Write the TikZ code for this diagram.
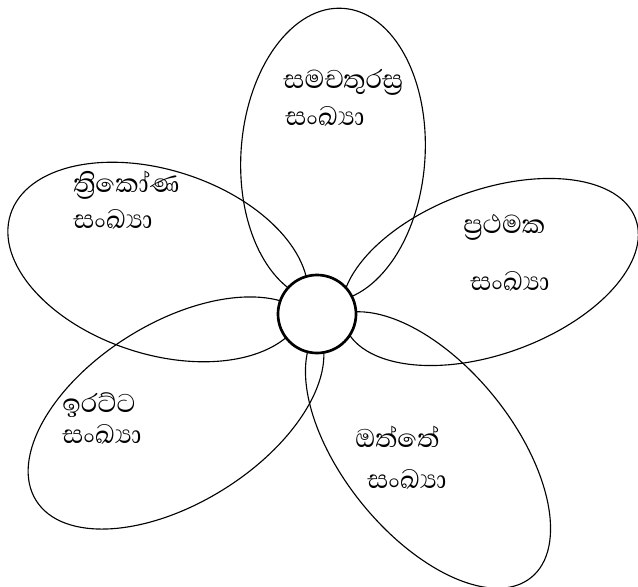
\documentclass[tikz,border=0pt]{standalone}
\usepackage{fontspec}
\newfontfamily\sinhala[Script=Sinhala]{Abhaya Libre}
\usetikzlibrary{positioning}

\begin{document}
\begin{tikzpicture}[x=0.025cm, y=-0.025cm,
  petal/.style={draw, line width=0.8pt},
  lbl/.style={font=\sinhala\fontsize{23.5}{28}\selectfont, anchor=base west, inner sep=0pt},
  hubst/.style={draw, circle, fill=white, line width=1.9pt, minimum size=1.95cm, inner sep=0pt}]
  \useasboundingbox (0,0) rectangle (638,586);
  % petals
  \draw[petal, rotate around={-4:(333,155)}] (333,155) ellipse [x radius=92, y radius=147];
  \draw[petal, rotate around={-18:(158,262)}] (158,262) ellipse [x radius=155, y radius=92];
  \draw[petal, rotate around={20:(490,272)}] (490,272) ellipse [x radius=155, y radius=82];
  \draw[petal, rotate around={32:(176,413)}] (176,413) ellipse [x radius=165, y radius=90];
  \draw[petal, rotate around={-51:(428,450)}] (428,450) ellipse [x radius=164, y radius=85];
  % centre
  \node[hubst] (hub) at (317,314) {};
  % labels
  \node[lbl] (sq1) at (283,88) {සමචතුරස්^^^^200dර};
  \node[lbl] (sq2) at (285,125) {සංඛ්^^^^200dයා};
  \node[lbl] (tri1) at (73,192) {ත්^^^^200dරිකෝණ};
  \node[lbl] (tri2) at (73,228) {සංඛ්^^^^200dයා};
  \node[lbl] (pr1) at (463,233) {ප්^^^^200dරථමක};
  \node[lbl] (pr2) at (470,290) {සංඛ්^^^^200dයා};
  \node[lbl] (ev1) at (62,412) {ඉරට්ට};
  \node[lbl] (ev2) at (62,443) {සංඛ්^^^^200dයා};
  \node[lbl] (od1) at (355,447) {ඔත්තේ};
  \node[lbl] (od2) at (367,488) {සංඛ්^^^^200dයා};
\end{tikzpicture}
\end{document}
